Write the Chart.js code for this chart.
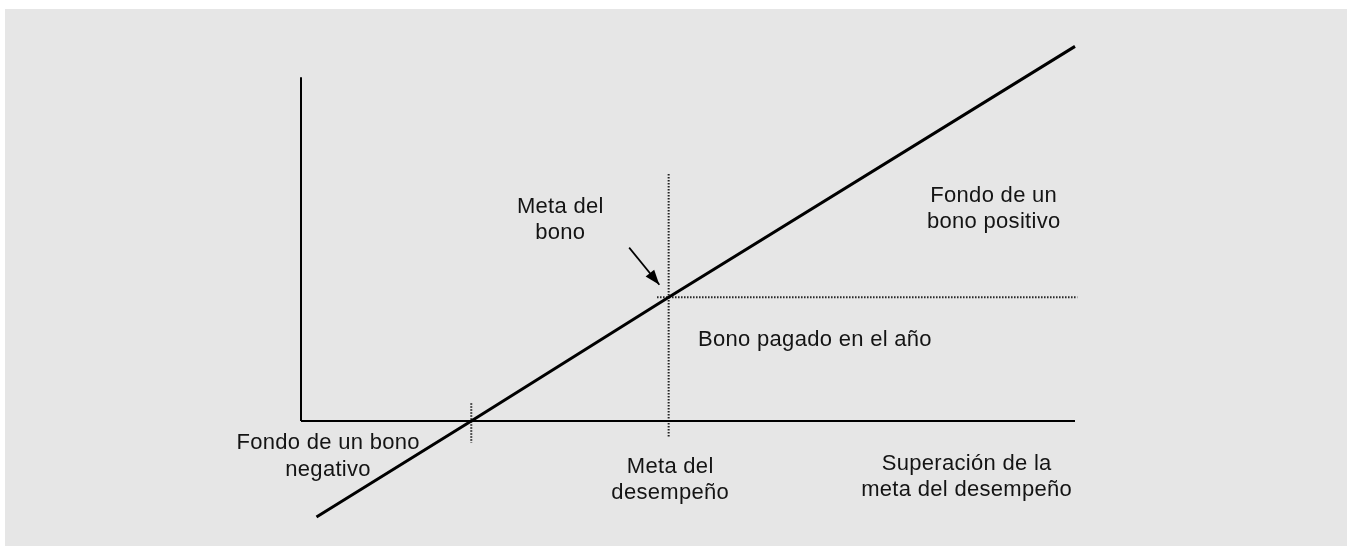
<!DOCTYPE html>
<html>
<head>
<meta charset="utf-8">
<script src="https://cdn.jsdelivr.net/npm/chart.js@4"></script>
<style>
  body { margin: 0; background: #fff; }
  #wrap { position: relative; width: 1354px; height: 546px; overflow: hidden; }
  #panel { position: absolute; left: 5px; top: 9px; width: 1342px; height: 537px; background: #e6e6e6; }
  #box { position: absolute; left: 0; top: 0; width: 1354px; height: 546px; }
</style>
</head>
<body>
<div id="wrap">
  <div id="panel"></div>
  <div id="box"><canvas id="chart"></canvas></div>
</div>
<script>
// performance (x) vs bonus (y)
const perfX  = [2, 22, 47.5, 100];
const bonusY = [-12.4, 0, 16, 48.4];

const xAxisEnd = 100;
const yAxisEnd = 44.4;

// dotted guides
const zeroGuideY = [2.3, -2.8];   // at perfX[1]
const goalGuideY = [31.9, -2.2];  // at perfX[2]
const goalGuideX = [46, 100.3];   // at bonusY[2]

// arrow pointing at the bonus target
const arrowX = [42.4, 46.3];
const arrowY = [22.4, 17.6];

const labelTexts = [
  ['Meta del', 'bono'],
  ['Fondo de un', 'bono positivo'],
  ['Bono pagado en el año'],
  ['Fondo de un bono', 'negativo'],
  ['Meta del', 'desempeño'],
  ['Superación de la', 'meta del desempeño']
];
const labelX = [33.5, 89.5, 51.3, 3.5, 47.7, 86.0];
const labelY = [27.9, 29.3, 10.6, -2.7, -5.7, -5.3];

const pts = (xs, ys) => xs.map((x, i) => ({ x: x, y: ys[i] }));

const dotted = {
  borderColor: '#222',
  borderWidth: 2,
  borderDash: [1.5, 1.5],
  pointRadius: 0,
  showLine: true,
  clip: false
};

const textPlugin = {
  id: 'notes',
  afterDatasetsDraw(chart) {
    const ctx = chart.ctx;
    const xs = chart.scales.x, ys = chart.scales.y;
    ctx.save();

    // arrow head
    const x1 = xs.getPixelForValue(arrowX[0]), y1 = ys.getPixelForValue(arrowY[0]);
    const x2 = xs.getPixelForValue(arrowX[1]), y2 = ys.getPixelForValue(arrowY[1]);
    const ang = Math.atan2(y2 - y1, x2 - x1);
    const len = 15, half = 5.5;
    ctx.fillStyle = '#000';
    ctx.beginPath();
    ctx.moveTo(x2, y2);
    ctx.lineTo(x2 - len * Math.cos(ang) + half * Math.sin(ang), y2 - len * Math.sin(ang) - half * Math.cos(ang));
    ctx.lineTo(x2 - len * Math.cos(ang) - half * Math.sin(ang), y2 - len * Math.sin(ang) + half * Math.cos(ang));
    ctx.closePath();
    ctx.fill();

    ctx.font = '22px "Liberation Sans", Arial, sans-serif';
    ctx.letterSpacing = '0.3px';
    ctx.fillStyle = '#141414';
    ctx.textBaseline = 'alphabetic';
    labelTexts.forEach((lines, i) => {
      const px = xs.getPixelForValue(labelX[i]);
      const py = ys.getPixelForValue(labelY[i]);
      ctx.textAlign = lines.length === 1 ? 'left' : 'center';
      lines.forEach((t, j) => ctx.fillText(t, px, py + 7.5 + j * 26.5));
    });
    ctx.restore();
  }
};

new Chart(document.getElementById('chart'), {
  type: 'scatter',
  data: {
    datasets: [
      { data: pts(perfX, bonusY), borderColor: '#000', borderWidth: 3, pointRadius: 0, showLine: true, clip: false },
      { data: pts([0, 0], [0, yAxisEnd]), borderColor: '#000', borderWidth: 2, pointRadius: 0, showLine: true, clip: false },
      { data: pts([0, xAxisEnd], [0, 0]), borderColor: '#000', borderWidth: 2, pointRadius: 0, showLine: true, clip: false },
      Object.assign({ data: pts([perfX[1], perfX[1]], zeroGuideY) }, dotted),
      Object.assign({ data: pts([perfX[2], perfX[2]], goalGuideY) }, dotted),
      Object.assign({ data: pts(goalGuideX, [bonusY[2], bonusY[2]]) }, dotted),
      { data: pts(arrowX, arrowY), borderColor: '#000', borderWidth: 1.7, pointRadius: 0, showLine: true, clip: false }
    ]
  },
  options: {
    responsive: true,
    maintainAspectRatio: false,
    animation: false,
    layout: { padding: { left: 301, right: 279, top: 46, bottom: 29 } },
    scales: {
      x: { type: 'linear', min: 0, max: 100, display: false },
      y: { type: 'linear', min: -12.4, max: 48.45, display: false }
    },
    plugins: {
      legend: { display: false },
      tooltip: { enabled: false }
    }
  },
  plugins: [textPlugin]
});
</script>
</body>
</html>
